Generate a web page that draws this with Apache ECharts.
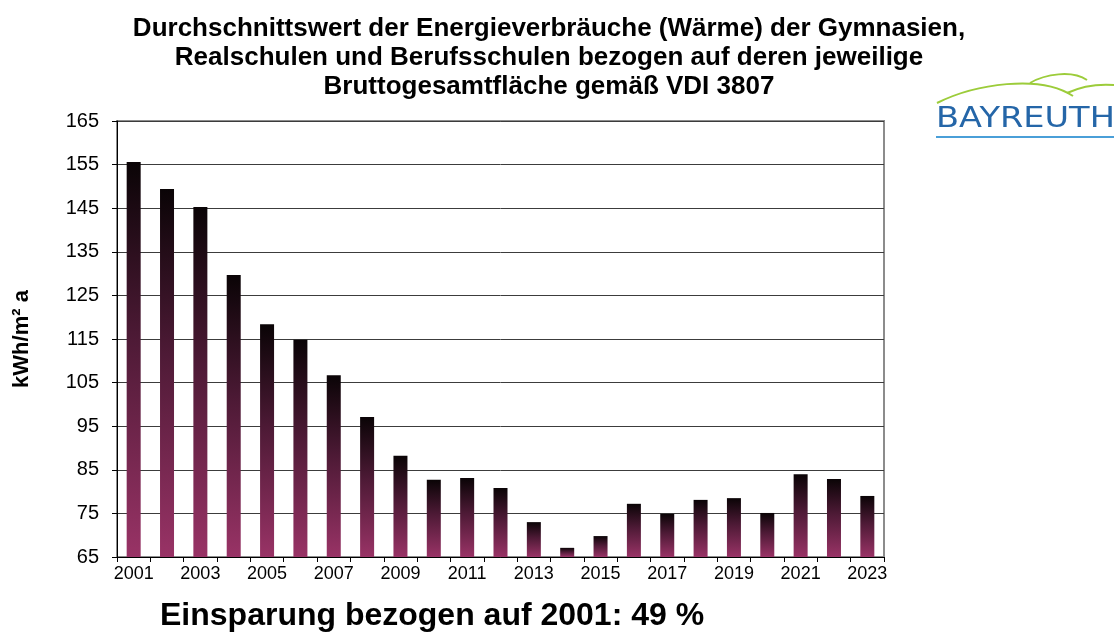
<!DOCTYPE html>
<html>
<head>
<meta charset="utf-8">
<script src="https://cdn.jsdelivr.net/npm/echarts@6/dist/echarts.min.js"></script>
<style>
  html, body { margin: 0; padding: 0; background: #fff; }
  #chart { width: 1114px; height: 639px; }
</style>
</head>
<body>
<div id="chart"></div>
<script>
// Jahre
const years = ['2001', '2002', '2003', '2004', '2005', '2006', '2007', '2008', '2009', '2010', '2011', '2012',
  '2013', '2014', '2015', '2016', '2017', '2018', '2019', '2020', '2021', '2022', '2023']
// kWh/m² a (Wärme)
const waerme = [155.6, 149.4, 145.3, 129.7, 118.4, 114.8, 106.7, 97.1, 88.2, 82.7, 83.1, 80.8,
  73.0, 67.1, 69.8, 77.2, 74.9, 78.1, 78.5, 75.1, 84.0, 82.9, 79.0]
const yTicks = [65, 75, 85, 95, 105, 115, 125, 135, 145, 155, 165]

const font = 'Liberation Sans, Arial, sans-serif'
const chart = echarts.init(document.getElementById('chart'))

const barGradient = new echarts.graphic.LinearGradient(0, 0, 0, 1, [
  {offset: 0, color: '#0a0406'},
  {offset: 0.45, color: '#4e1a36'},
  {offset: 1, color: '#993366'}
])

const option = {
  animation: false,
  title: {
    text: 'Durchschnittswert der Energieverbräuche (Wärme) der Gymnasien,\nRealschulen und Berufsschulen bezogen auf deren jeweilige\nBruttogesamtfläche gemäß VDI 3807',
    left: 544,
    top: 9,
    textAlign: 'center',
    textStyle: {fontFamily: font, fontWeight: 'bold', fontSize: 26, lineHeight: 29, color: '#000'}
  },
  grid: {
    left: 117,
    right: 230,
    top: 121,
    bottom: 82,
    show: true,
    borderColor: '#8c8c8c',
    borderWidth: 2
  },
  xAxis: {
    type: 'category',
    data: years,
    boundaryGap: true,
    axisLine: {lineStyle: {color: '#000', width: 1}},
    axisTick: {show: true, interval: 0, length: 5, lineStyle: {color: '#000'}},
    axisLabel: {interval: 1, fontFamily: font, fontSize: 18, color: '#000', margin: 8}
  },
  yAxis: {
    type: 'value',
    min: yTicks[0],
    max: yTicks[yTicks.length - 1],
    interval: 10,
    name: 'kWh/m² a',
    nameLocation: 'middle',
    nameGap: 84,
    nameTextStyle: {fontFamily: font, fontWeight: 'bold', fontSize: 22, color: '#000'},
    axisLine: {show: true, lineStyle: {color: '#000', width: 1}},
    axisTick: {show: true, length: 5, lineStyle: {color: '#000'}},
    axisLabel: {fontFamily: font, fontSize: 20, color: '#000', margin: 18},
    splitLine: {lineStyle: {color: '#3c3c3c', width: 1}}
  },
  series: [{
    type: 'bar',
    data: waerme,
    barWidth: 14,
    itemStyle: {color: barGradient}
  }],
  graphic: [
    {
      type: 'text',
      left: 160,
      top: 600,
      style: {
        text: 'Einsparung bezogen auf 2001: 49 %',
        fontFamily: font,
        fontWeight: 'bold',
        fontSize: 32,
        fill: '#000'
      }
    },
    // Logo Bayreuth
    {
      type: 'bezierCurve',
      shape: {x1: 937, y1: 103, cpx1: 975, cpy1: 84, cpx2: 1040, cpy2: 74, x2: 1073, y2: 96},
      style: {stroke: '#9ccc3a', lineWidth: 2, fill: null}
    },
    {
      type: 'bezierCurve',
      shape: {x1: 1030, y1: 83, cpx1: 1045, cpy1: 74, cpx2: 1072, cpy2: 70, x2: 1087, y2: 80},
      style: {stroke: '#9ccc3a', lineWidth: 2, fill: null}
    },
    {
      type: 'bezierCurve',
      shape: {x1: 1067, y1: 93, cpx1: 1082, cpy1: 86, cpx2: 1100, cpy2: 84, x2: 1114, y2: 85},
      style: {stroke: '#9ccc3a', lineWidth: 2, fill: null}
    },
    {
      type: 'text',
      x: 936,
      y: 106,
      scaleX: 1.2,
      style: {
        text: 'BAYREUTH',
        fontFamily: 'DejaVu Sans, sans-serif',
        fontSize: 28,
        fill: '#2566a8'
      }
    },
    {
      type: 'rect',
      shape: {x: 936, y: 136, width: 178, height: 2},
      style: {fill: '#4a9fd8'}
    }
  ]
}

chart.setOption(option)
window.addEventListener('resize', () => {
  chart.resize()
})
</script>
</body>
</html>
